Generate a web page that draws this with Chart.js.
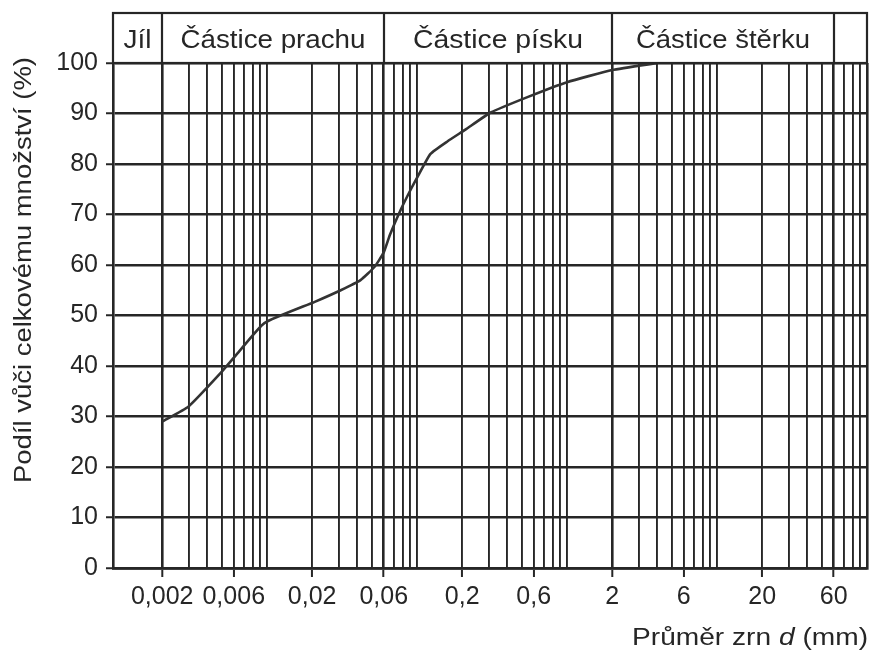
<!DOCTYPE html>
<html>
<head>
<meta charset="utf-8">
<script src="https://cdn.jsdelivr.net/npm/chart.js@4/dist/chart.umd.min.js"></script>
<style>
  html, body { margin: 0; padding: 0; background: #fff; }
  #wrap { width: 874px; height: 659px; }
</style>
</head>
<body>
<div id="wrap"><canvas id="chart" width="874" height="659"></canvas></div>
<script>
// Grain size curve (d in mm, % passing)
const grainSize = [0.002, 0.003, 0.0049, 0.0064, 0.0096, 0.0208, 0.031, 0.042, 0.052, 0.06, 0.066, 0.078, 0.091, 0.101, 0.123, 0.16, 0.21, 0.31, 0.55, 1.0, 2.0, 4.0];
const passing = [29, 32, 38.6, 42.6, 48.5, 52.7, 55, 57, 59.6, 62.5, 66, 71, 75, 77.5, 82, 84.5, 86.8, 90.2, 93.3, 96.2, 98.6, 100];

// Labelled ticks on the x axis
const xTickValues = [0.002, 0.006, 0.02, 0.06, 0.2, 0.6, 2, 6, 20, 60];
const xTickLabels = ['0,002', '0,006', '0,02', '0,06', '0,2', '0,6', '2', '6', '20', '60'];

// Soil fraction zones in the header
const zoneNames = ['Jíl', 'Částice prachu', 'Částice písku', 'Částice štěrku', ''];
const zoneBounds = [0.00094, 0.002, 0.06, 2, 60, 100];

const yTitle = 'Podíl vůči celkovému množství (%)';
const xTitleParts = ['Průměr zrn ', 'd', ' (mm)'];

const ink = '#262626';
const tickFont = { family: 'Liberation Sans, Arial, sans-serif', size: 25 };

// grid lines at 1..9 x 10^n (starting from 0.002)
function gridValues() {
  const vals = [];
  for (let e = -3; e <= 1; e++) {
    for (let k = 1; k <= 9; k++) {
      const v = +(k * Math.pow(10, e)).toPrecision(3);
      if (v >= 0.002) vals.push(v);
    }
  }
  vals.push(100);
  return vals;
}

function labelFor(v) {
  const i = xTickValues.findIndex(t => Math.abs(t - v) / t < 1e-6);
  return i >= 0 ? xTickLabels[i] : '';
}

// draw text squeezed/stretched to a given width
function fitText(ctx, text, x, y, width, font) {
  ctx.font = font;
  const w = ctx.measureText(text).width;
  ctx.save();
  ctx.translate(x, y);
  ctx.scale(width / w, 1);
  ctx.fillText(text, 0, 0);
  ctx.restore();
}

const framePlugin = {
  id: 'frame',
  afterDraw(chart) {
    const { ctx, chartArea: a } = chart;
    const x = chart.scales.x;
    const top = 13;
    ctx.save();
    ctx.strokeStyle = ink;
    ctx.lineWidth = 2.2;
    ctx.strokeRect(a.left, top, a.right - a.left, a.top - top);
    ctx.beginPath();
    zoneBounds.slice(1, -1).forEach(b => {
      const px = Math.round(x.getPixelForValue(b));
      ctx.moveTo(px, top);
      ctx.lineTo(px, a.top);
    });
    ctx.stroke();

    // zone names
    ctx.fillStyle = ink;
    ctx.textBaseline = 'alphabetic';
    ctx.textAlign = 'center';
    const widths = [28, 185, 170, 174, 0];
    zoneNames.forEach((name, i) => {
      if (!name) return;
      const x0 = x.getPixelForValue(zoneBounds[i]);
      const x1 = x.getPixelForValue(zoneBounds[i + 1]);
      fitText(ctx, name, (x0 + x1) / 2, 48, widths[i], '25px Liberation Sans, Arial, sans-serif');
    });

    // y axis title
    ctx.save();
    ctx.translate(31, 270);
    ctx.rotate(-Math.PI / 2);
    ctx.textAlign = 'center';
    fitText(ctx, yTitle, 0, 0, 426, '23px Liberation Sans, Arial, sans-serif');
    ctx.restore();

    // x axis title, right aligned
    ctx.textAlign = 'left';
    const fonts = ['23px Liberation Sans, Arial, sans-serif', 'italic 23px Liberation Sans, Arial, sans-serif', '23px Liberation Sans, Arial, sans-serif'];
    let total = 0;
    const ws = xTitleParts.map((p, i) => { ctx.font = fonts[i]; const w = ctx.measureText(p).width; total += w; return w; });
    const sx = 236 / total;
    let cx = 868 - 236;
    xTitleParts.forEach((p, i) => {
      ctx.font = fonts[i];
      ctx.save();
      ctx.translate(cx, 645);
      ctx.scale(sx, 1);
      ctx.fillText(p, 0, 0);
      ctx.restore();
      cx += ws[i] * sx;
    });
    ctx.restore();
  }
};

new Chart(document.getElementById('chart'), {
  type: 'line',
  data: {
    datasets: [{
      data: grainSize.map((d, i) => ({ x: d, y: passing[i] })),
      borderColor: '#333',
      borderWidth: 2.6,
      pointRadius: 0,
      tension: 0.15,
      fill: false
    }]
  },
  options: {
    responsive: false,
    animation: false,
    layout: { padding: { top: 63, right: 7, left: 0, bottom: 0 } },
    plugins: { legend: { display: false }, tooltip: { enabled: false } },
    scales: {
      x: {
        type: 'logarithmic',
        min: 0.00094,
        max: 100,
        afterBuildTicks: scale => { scale.ticks = gridValues().map(v => ({ value: v })); },
        afterFit: scale => { scale.height = 659 - 568; },
        border: { color: ink, width: 2.8 },
        grid: {
          color: ink,
          lineWidth: c => {
            const v = c.tick && c.tick.value;
            return zoneBounds.some(b => Math.abs(b - v) / b < 1e-6) ? 2.6 : 1.9;
          },
          tickLength: 9,
          tickColor: c => (c.tick && labelFor(c.tick.value)) ? ink : 'rgba(0,0,0,0)',
          tickWidth: 2
        },
        ticks: {
          autoSkip: false,
          maxRotation: 0,
          minRotation: 0,
          padding: 5,
          color: ink,
          font: tickFont,
          callback: v => labelFor(v)
        }
      },
      y: {
        min: 0,
        max: 100,
        afterFit: scale => { scale.width = 113; },
        border: { color: ink, width: 2.6 },
        grid: {
          color: ink,
          lineWidth: 2.5,
          tickLength: 7,
          tickColor: ink,
          tickWidth: 2
        },
        ticks: {
          stepSize: 10,
          padding: 8,
          color: ink,
          font: tickFont
        }
      }
    }
  },
  plugins: [framePlugin]
});
</script>
</body>
</html>
